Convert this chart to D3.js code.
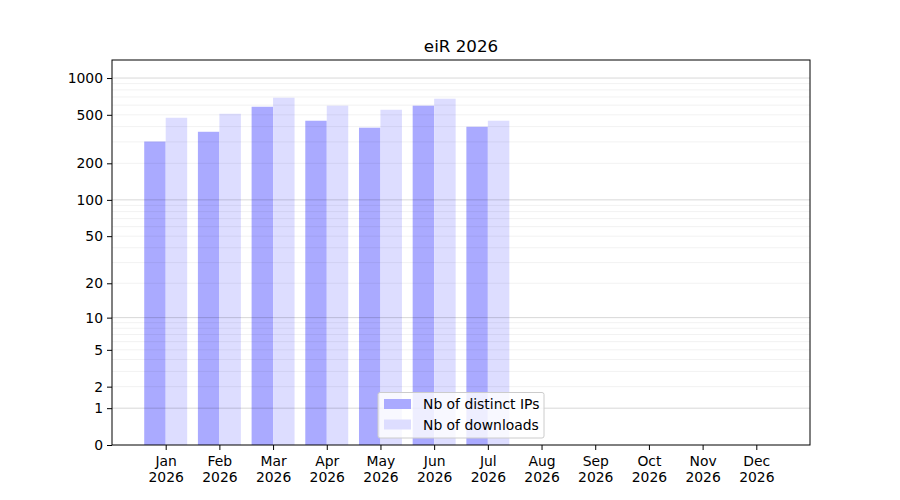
<!DOCTYPE html>
<html>
<head>
<meta charset="utf-8">
<script src="https://cdn.jsdelivr.net/npm/d3@7"></script>
<style>
  body { margin: 0; background: #fff; }
  text { font-family: "DejaVu Sans", sans-serif; fill: #000; }
</style>
</head>
<body>
<script>
const months = ['Jan', 'Feb', 'Mar', 'Apr', 'May', 'Jun', 'Jul', 'Aug', 'Sep', 'Oct', 'Nov', 'Dec']
const year = '2026'
const distinctIps = [302, 363, 582, 447, 392, 594, 399]
const downloads = [473, 510, 690, 594, 550, 677, 447]
const yTicks = [0, 1, 2, 5, 10, 20, 50, 100, 200, 500, 1000]
const majorGrid = [1, 10, 100, 1000]
const minorGrid = [2, 3, 4, 5, 6, 7, 8, 9, 20, 30, 40, 50, 60, 70, 80, 90, 200, 300, 400, 500, 600, 700, 800, 900]

const W = 900, H = 500
const plot = { left: 112, right: 810, top: 60, bottom: 445 }
const barW = 0.4

const svg = d3.select('body').append('svg')
  .attr('width', W)
  .attr('height', H)

const x = d3.scaleLinear().domain([0, 13]).range([plot.left, plot.right])
// y axis is log(1 + n), same as symlog with constant 1
const y = d3.scaleSymlog().constant(1).domain([0, 1405]).range([plot.bottom, plot.top])

// bars
const g = svg.append('g')
g.selectAll('.ip')
  .data(distinctIps)
  .enter().append('rect')
    .attr('class', 'ip')
    .attr('x', (d, i) => x(i + 1 - barW))
    .attr('width', (d, i) => x(i + 1) - x(i + 1 - barW))
    .attr('y', d => y(d))
    .attr('height', d => y(0) - y(d))
    .attr('fill', '#aaaaff')

g.selectAll('.dl')
  .data(downloads)
  .enter().append('rect')
    .attr('class', 'dl')
    .attr('x', (d, i) => x(i + 1))
    .attr('width', (d, i) => x(i + 1 + barW) - x(i + 1))
    .attr('y', d => y(d))
    .attr('height', d => y(0) - y(d))
    .attr('fill', '#ddddff')

// grid on top of the bars
svg.append('g').selectAll('line')
  .data(minorGrid)
  .enter().append('line')
    .attr('x1', plot.left).attr('x2', plot.right)
    .attr('y1', d => y(d)).attr('y2', d => y(d))
    .attr('stroke', '#000').attr('stroke-opacity', 0.07).attr('stroke-width', 0.8)

svg.append('g').selectAll('line')
  .data(majorGrid)
  .enter().append('line')
    .attr('x1', plot.left).attr('x2', plot.right)
    .attr('y1', d => y(d)).attr('y2', d => y(d))
    .attr('stroke', '#000').attr('stroke-opacity', 0.2).attr('stroke-width', 0.8)

// frame
svg.append('rect')
  .attr('x', plot.left).attr('y', plot.top)
  .attr('width', plot.right - plot.left).attr('height', plot.bottom - plot.top)
  .attr('fill', 'none').attr('stroke', '#000').attr('stroke-width', 1)

// y axis
const yAxis = d3.axisLeft(y).tickValues(yTicks).tickFormat(d3.format('d')).tickSizeOuter(0).tickSize(5).tickPadding(4)
const ya = svg.append('g').attr('transform', `translate(${plot.left},0)`).call(yAxis)
ya.select('.domain').remove()
ya.selectAll('text').style('font-size', '13.9px').attr('font-family', 'DejaVu Sans')

// x axis
const xAxis = d3.axisBottom(x).tickValues(d3.range(1, 13)).tickFormat('').tickSizeOuter(0).tickSize(5)
const xa = svg.append('g').attr('transform', `translate(0,${plot.bottom})`).call(xAxis)
xa.select('.domain').remove()
const lbl = xa.selectAll('.tick').append('text')
  .attr('text-anchor', 'middle')
  .style('font-size', '13.9px')
lbl.append('tspan').attr('x', 0).attr('y', 21).text((d, i) => months[i])
lbl.append('tspan').attr('x', 0).attr('y', 36.8).text(year)

// title
svg.append('text')
  .attr('x', (plot.left + plot.right) / 2)
  .attr('y', 52)
  .attr('text-anchor', 'middle')
  .style('font-size', '16.7px')
  .text('eiR ' + year)

// legend
const leg = svg.append('g').attr('transform', 'translate(378,392.5)')
leg.append('rect')
  .attr('width', 166).attr('height', 45.5).attr('rx', 2)
  .attr('fill', '#fff').attr('fill-opacity', 0.8)
  .attr('stroke', '#cccccc').attr('stroke-width', 1)
const items = [['Nb of distinct IPs', '#aaaaff'], ['Nb of downloads', '#ddddff']]
items.forEach((it, i) => {
  leg.append('rect')
    .attr('x', 6).attr('y', 6.5 + i * 20.5)
    .attr('width', 27).attr('height', 10)
    .attr('fill', it[1])
  leg.append('text')
    .attr('x', 45).attr('y', 16.5 + i * 20.5)
    .style('font-size', '13.9px')
    .text(it[0])
})
</script>
</body>
</html>
